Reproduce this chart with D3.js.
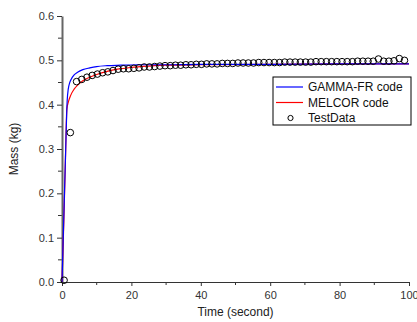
<!DOCTYPE html>
<html>
<head>
<meta charset="utf-8">
<script src="https://cdn.jsdelivr.net/npm/d3@7"></script>
<style>
  body { margin: 0; background: #fff; }
  svg { display: block; font-family: Arial, "Liberation Sans", sans-serif; }
</style>
</head>
<body>
<svg id="chart" width="417" height="322"></svg>
<script>
// GAMMA-FR code curve
const gammaTime = [0, 0.5, 1, 1.5, 1.8, 2.2, 2.7, 3.5, 4.5, 6, 8, 10, 13, 17, 22, 30, 40, 60, 80, 100];
const gammaMass = [0, 0.14, 0.28, 0.41, 0.435, 0.449, 0.458, 0.467, 0.473, 0.479, 0.483, 0.486, 0.488, 0.489, 0.490, 0.490, 0.491, 0.491, 0.492, 0.492];

// MELCOR code curve
const melcorTime = [0, 0.5, 1, 1.4, 1.8, 2.5, 3.5, 4.5, 6, 8, 10, 13, 16, 20, 25, 30, 40, 60, 80, 100];
const melcorMass = [0, 0.13, 0.28, 0.39, 0.405, 0.421, 0.435, 0.444, 0.454, 0.462, 0.468, 0.475, 0.480, 0.484, 0.487, 0.489, 0.490, 0.491, 0.492, 0.492];

// test data (markers)
const testTime = [0.6, 2.4, 4.2, 5.7, 7.2, 8.7, 10.2, 11.7, 13.2, 14.7, 16.2, 17.7, 19.2, 20.7, 22.2, 23.7,
  25.2, 26.7, 28.2, 29.7, 31.2, 32.7, 34.2, 35.7, 37.2, 38.7, 40.2, 41.7, 43.2, 44.7, 46.2, 47.7,
  49.2, 50.7, 52.2, 53.7, 55.2, 56.7, 58.2, 59.7, 61.2, 62.7, 64.2, 65.7, 67.2, 68.7, 70.2, 71.7,
  73.2, 74.7, 76.2, 77.7, 79.2, 80.7, 82.2, 83.7, 85.2, 86.7, 88.2, 89.7, 91.2, 92.7, 94.2, 95.7,
  97.2, 98.7];
const testMass = [0.004, 0.337, 0.452, 0.457, 0.462, 0.466, 0.469, 0.472, 0.474, 0.477, 0.480, 0.481, 0.481, 0.482, 0.483, 0.485,
  0.485, 0.486, 0.487, 0.488, 0.488, 0.489, 0.489, 0.490, 0.490, 0.491, 0.491, 0.492, 0.492, 0.492, 0.493, 0.493,
  0.493, 0.494, 0.494, 0.494, 0.494, 0.495, 0.495, 0.495, 0.495, 0.495, 0.496, 0.496, 0.496, 0.496, 0.496, 0.496,
  0.497, 0.497, 0.497, 0.497, 0.497, 0.497, 0.497, 0.497, 0.498, 0.498, 0.498, 0.498, 0.503, 0.498, 0.498, 0.499,
  0.504, 0.500];

const xTicks = [0, 20, 40, 60, 80, 100];
const yTicks = [0.0, 0.1, 0.2, 0.3, 0.4, 0.5, 0.6];

const seriesNames = ["GAMMA-FR code", "MELCOR code", "TestData"];

const margin = {top: 16, right: 8, bottom: 40, left: 62},
    width = 417 - margin.left - margin.right,
    height = 322 - margin.top - margin.bottom;

const svg = d3.select("#chart")
  .append("g")
  .attr("transform", `translate(${margin.left},${margin.top})`);

const x = d3.scaleLinear().domain([0, 100]).range([0, width]);
const y = d3.scaleLinear().domain([0, 0.6]).range([height, 0]);

// minor ticks
const xMinor = d3.range(10, 100, 20);
const yMinor = d3.range(0.05, 0.6, 0.1);

svg.append("g")
  .selectAll("line.xm")
  .data(xMinor)
  .join("line")
  .attr("x1", d => x(d)).attr("x2", d => x(d))
  .attr("y1", height).attr("y2", height + 3)
  .attr("stroke", "#333");

svg.append("g")
  .selectAll("line.ym")
  .data(yMinor)
  .join("line")
  .attr("x1", -4).attr("x2", 0)
  .attr("y1", d => y(d)).attr("y2", d => y(d))
  .attr("stroke", "#333");

// x axis
const xAxis = svg.append("g")
  .attr("transform", `translate(0,${height})`)
  .call(d3.axisBottom(x).tickValues(xTicks).tickSize(4).tickSizeOuter(0).tickFormat(d3.format("d")));
xAxis.select(".domain").attr("stroke", "#333");
xAxis.selectAll(".tick line").attr("stroke", "#333");
xAxis.selectAll("text").attr("font-size", 11).attr("fill", "#333").attr("dy", "0.9em");

// y axis
const yAxis = svg.append("g")
  .call(d3.axisLeft(y).tickValues(yTicks).tickSize(5).tickSizeOuter(0).tickFormat(d3.format(".1f")));
yAxis.select(".domain").attr("stroke", "#666").attr("stroke-width", 2);
yAxis.selectAll(".tick line").attr("stroke", "#333");
yAxis.selectAll("text").attr("font-size", 11).attr("fill", "#333").attr("x", -8);

// axis titles
svg.append("text")
  .attr("x", width / 2)
  .attr("y", height + 34)
  .attr("text-anchor", "middle")
  .attr("font-size", 12)
  .attr("fill", "#222")
  .text("Time (second)");

svg.append("text")
  .attr("transform", `translate(${-44},${height / 2}) rotate(-90)`)
  .attr("text-anchor", "middle")
  .attr("font-size", 12)
  .attr("fill", "#222")
  .text("Mass (kg)");

const line = d3.line()
  .x(d => x(d[0]))
  .y(d => y(d[1]))
  .curve(d3.curveMonotoneX);

// red line
svg.append("path")
  .datum(d3.zip(melcorTime, melcorMass))
  .attr("fill", "none")
  .attr("stroke", "red")
  .attr("stroke-width", 1.2)
  .attr("d", line);

// blue line
svg.append("path")
  .datum(d3.zip(gammaTime, gammaMass))
  .attr("fill", "none")
  .attr("stroke", "blue")
  .attr("stroke-width", 1.2)
  .attr("d", line);

// test data markers
svg.append("g")
  .selectAll("circle")
  .data(d3.zip(testTime, testMass))
  .join("circle")
  .attr("cx", d => x(d[0]))
  .attr("cy", d => y(d[1]))
  .attr("r", 3.3)
  .attr("fill", "none")
  .attr("stroke", "black")
  .attr("stroke-width", 1);

// legend
const legend = svg.append("g").attr("transform", `translate(${273 - margin.left},${77 - margin.top})`);
legend.append("rect")
  .attr("width", 138)
  .attr("height", 48)
  .attr("fill", "white")
  .attr("stroke", "black")
  .attr("stroke-width", 1);

const legendColors = ["blue", "red", null];
seriesNames.forEach((name, i) => {
  const ly = 10 + i * 15.5;
  if (legendColors[i]) {
    legend.append("line")
      .attr("x1", 3).attr("x2", 30)
      .attr("y1", ly).attr("y2", ly)
      .attr("stroke", legendColors[i])
      .attr("stroke-width", 1.2);
  } else {
    legend.append("circle")
      .attr("cx", 17.5).attr("cy", ly)
      .attr("r", 2.6)
      .attr("fill", "none")
      .attr("stroke", "black");
  }
  legend.append("text")
    .attr("x", 35)
    .attr("y", ly)
    .attr("dy", "0.35em")
    .attr("font-size", 12)
    .attr("fill", "#111")
    .text(name);
});
</script>
</body>
</html>
